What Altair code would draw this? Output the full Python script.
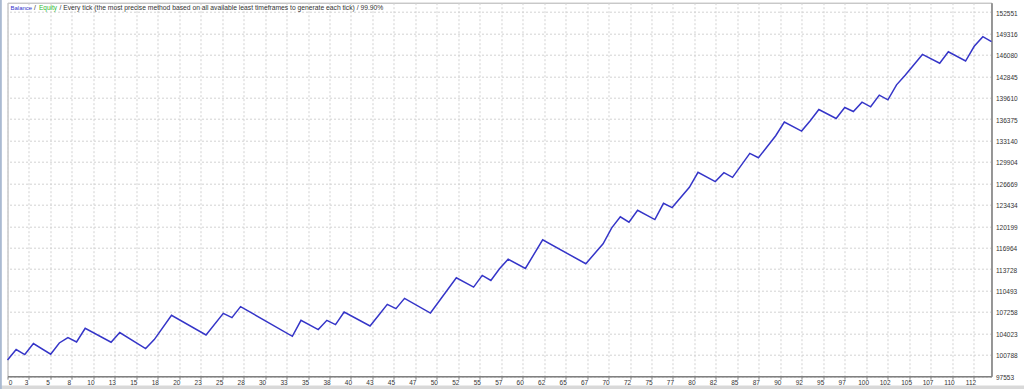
import altair as alt
import pandas as pd

# Trade number (x) at each turning point of the balance curve and the balance there
trades = [0, 1, 2, 3, 5, 6, 7, 8, 9, 12, 13, 16, 17, 19, 23, 25, 26, 27, 33, 34,
          36, 37, 38, 39, 42, 43, 44, 45, 46, 49, 52, 54, 55, 56, 57, 58, 60, 62, 67, 69,
          70, 71, 72, 73, 75, 76, 77, 79, 80, 82, 83, 84, 86, 87, 89, 90, 92, 93, 94, 96,
          97, 98, 99, 100, 101, 102, 103, 104, 106, 108, 109, 111, 112, 113, 114]
balance = [100000, 101576, 100823, 102480, 100868, 102571, 103384, 102721, 104786, 102676,
           104138, 101727, 103083, 106744, 103776, 107046, 106398, 108055, 103580, 105991,
           104590, 105991, 105343, 107242, 105132, 106744, 108402, 107754, 109306, 107091,
           112425, 111009, 112772, 112018, 113781, 115228, 113826, 118151, 114535, 117548,
           119959, 121617, 120803, 122611, 121210, 123666, 123018, 126077, 128337, 126936,
           128292, 127584, 131200, 130552, 133867, 135931, 134575, 136127, 137830, 136474,
           138131, 137528, 138945, 138237, 140000, 139291, 141552, 143013, 146147, 144821,
           146554, 145153, 147383, 148829, 148076]

x_labels = ["0", "3", "5", "8", "10", "13", "15", "18", "20", "23", "25", "28", "30", "33",
            "35", "38", "40", "43", "45", "47", "50", "52", "55", "57", "60", "62", "65", "67",
            "70", "72", "75", "77", "80", "82", "85", "87", "90", "92", "95", "97", "100",
            "102", "105", "107", "110", "112"]
y_ticks = [97553, 100788, 104023, 107258, 110493, 113728, 116964, 120199, 123434, 126669,
           129904, 133140, 136375, 139610, 142845, 146080, 149316, 152551]

title_balance = "Balance"
title_equity = "Equity"
title_rest = "/ Every tick (the most precise method based on all available least timeframes to generate each tick) / 99.90%"

df = pd.DataFrame({"trade": trades, "balance": balance})

step = 2.487
grid_t = [round(i * step, 3) for i in range(len(x_labels))]
label_arr = "[" + ",".join("'" + s + "'" for s in x_labels) + "]"
label_expr = f"{label_arr}[round(datum.value / {step})]"

FONT = "Liberation Sans"
GRID = "#d2d2d2"
AXC = "#808080"
PAD_L, PAD_T = 7.5, 2.7

x_enc = alt.X(
    "trade:Q",
    scale=alt.Scale(domain=[0, 114], nice=False, zero=False),
    axis=alt.Axis(
        title="", orient="bottom", values=grid_t, labelExpr=label_expr,
        grid=True, gridColor=GRID, gridDash=[2, 2], gridWidth=1,
        domain=True, domainColor=AXC, domainWidth=1.5,
        ticks=True, tickSize=3, tickColor=AXC,
        labelFont=FONT, labelFontSize=6.5, labelColor="#333333",
        labelPadding=0, labelAlign="center",
        labelOffset={"condition": {"test": "datum.value == 0", "value": 2.5}, "value": -3},
        labelOverlap=False,
    ),
)
y_enc = alt.Y(
    "balance:Q",
    scale=alt.Scale(domain=[97553, 153960], nice=False, zero=False),
    axis=alt.Axis(
        title="", orient="right", values=y_ticks, format="d",
        grid=True, gridColor=GRID, gridDash=[2, 2], gridWidth=1,
        domain=True, domainColor=AXC, domainWidth=1.5,
        ticks=False, labelFont=FONT, labelFontSize=6.5, labelColor="#333333",
        labelPadding=4, labelBaseline="middle", labelOffset=1, labelOverlap=False,
    ),
)

line = alt.Chart(df).mark_line(color="#3535c8", strokeWidth=1.5).encode(x=x_enc, y=y_enc)

one = pd.DataFrame({"k": [0]})


def label(text, x_abs, color, size):
    return alt.Chart(one).mark_text(
        align="left", baseline="middle", font=FONT, fontSize=size, color=color
    ).encode(x=alt.value(x_abs - PAD_L), y=alt.value(8 - PAD_T), text=alt.value(text))


def band(x1, x2, y1, y2, color):
    return alt.Chart(one).mark_rect(color=color).encode(
        x=alt.value(x1 - PAD_L), x2=alt.value(x2 - PAD_L),
        y=alt.value(y1 - PAD_T), y2=alt.value(y2 - PAD_T),
    )


chart = alt.layer(
    band(0, 1024, 385.5, 389, "#d9d9d9"),
    band(0, 1.8, 0, 389, "#a9b9d1"),
    line,
    label(title_balance, 10.5, "#3333cc", 6.0),
    label("/", 34, "#333333", 6.75),
    label(title_equity, 39, "#33bb33", 6.5),
    label(title_rest, 59.5, "#333333", 6.75),
).properties(
    width=984, height=373.5,
    padding={"left": PAD_L, "top": PAD_T, "right": 32.5, "bottom": 13},
    autosize=alt.AutoSizeParams(type="none"),
    background="white",
).configure_view(stroke="#b0b0b0", strokeWidth=1)

chart.save("out.html", embed_options={"renderer": "svg", "actions": False})
